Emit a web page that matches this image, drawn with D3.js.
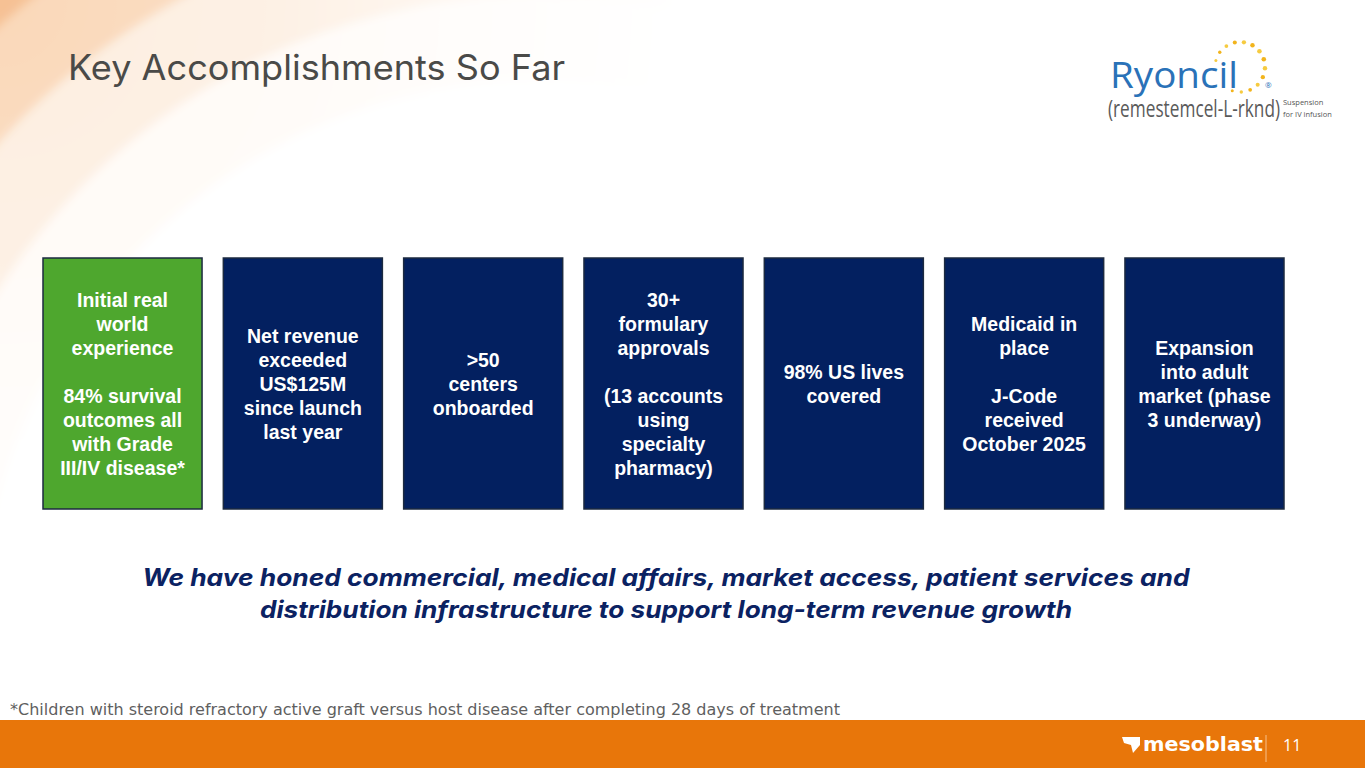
<html>
<head>
<script src="https://d3js.org/d3.v7.min.js"></script>
<style>
body { margin: 0; background: #fff; }
svg { display: block; }
</style>
</head>
<body>
<svg width="1365" height="768"></svg>
<script>
// slide content
var title = "Key Accomplishments So Far";
var boxIds = ["survival", "revenue", "centers", "formulary", "lives", "medicaid", "adult"];
var boxLines = [
  ["Initial real", "world", "experience", "", "84% survival", "outcomes all", "with Grade", "III/IV disease*"],
  ["Net revenue", "exceeded", "US$125M", "since launch", "last year"],
  [">50", "centers", "onboarded"],
  ["30+", "formulary", "approvals", "", "(13 accounts", "using", "specialty", "pharmacy)"],
  ["98% US lives", "covered"],
  ["Medicaid in", "place", "", "J-Code", "received", "October 2025"],
  ["Expansion", "into adult", "market (phase", "3 underway)"]
];
var boxKind = ["green", "navy", "navy", "navy", "navy", "navy", "navy"];
var tagline = [
  "We have honed commercial, medical affairs, market access, patient services and",
  "distribution infrastructure to support long-term revenue growth"
];
var taglineWidth = [1047, 812];
var footnote = "*Children with steroid refractory active graft versus host disease after completing 28 days of treatment";
var pageNo = "11";

var width = 1365, height = 768;
var svg = d3.select("svg");
var defs = svg.append("defs");

// background swirl, top left corner only
var fade = defs.append("radialGradient").attr("id", "fade")
  .attr("gradientUnits", "userSpaceOnUse")
  .attr("cx", 0).attr("cy", 0).attr("r", 680);
fade.append("stop").attr("offset", 0).attr("stop-color", "#fff").attr("stop-opacity", 1);
fade.append("stop").attr("offset", 0.4).attr("stop-color", "#fff").attr("stop-opacity", 0.85);
fade.append("stop").attr("offset", 1).attr("stop-color", "#fff").attr("stop-opacity", 0);
defs.append("mask").attr("id", "swirlMask")
  .append("rect").attr("width", width).attr("height", height).attr("fill", "url(#fade)");
defs.append("filter").attr("id", "blur").append("feGaussianBlur").attr("stdDeviation", 5);

var swirl = svg.append("g").attr("mask", "url(#swirlMask)");
var ringG = swirl.append("g").attr("filter", "url(#blur)");
ringG.append("rect").attr("x", -20).attr("y", -20).attr("width", 800).attr("height", 800).attr("fill", "#f6c194");
var rings = [{r: 818, c: "#fad8b9"}, {r: 735, c: "#fdeee0"}, {r: 645, c: "#fffaf6"}, {r: 560, c: "#ffffff"}];
ringG.selectAll("circle.ring").data(rings).enter().append("circle")
  .attr("class", "ring")
  .attr("cx", 540).attr("cy", 640)
  .attr("r", function(d) { return d.r; })
  .attr("fill", function(d) { return d.c; });

// title
svg.append("text")
  .attr("x", 68).attr("y", 80)
  .attr("textLength", 497).attr("lengthAdjust", "spacingAndGlyphs")
  .style("font-family", "Inter, 'Open Sans', sans-serif")
  .style("font-size", "35px")
  .style("fill", "#4a4a48")
  .text(title);

// Ryoncil logo
var logo = svg.append("g");
logo.append("text").attr("x", 1110).attr("y", 88)
  .attr("textLength", 128).attr("lengthAdjust", "spacingAndGlyphs")
  .style("font-family", "'Open Sans', sans-serif").style("font-size", "37px")
  .style("fill", "#2a72b8").text("Ryoncil");
var dotAngles = d3.range(-165, 115, 21);
logo.selectAll("circle.dot").data(dotAngles).enter().append("circle")
  .attr("class", "dot")
  .attr("cx", function(d) { return 1240 + 25 * Math.cos(d * Math.PI / 180); })
  .attr("cy", function(d) { return 67 + 25 * Math.sin(d * Math.PI / 180); })
  .attr("r", function(d, i) { return 1.5 + 0.8 * Math.sin(i / (dotAngles.length - 1) * Math.PI); })
  .attr("fill", function(d, i) { return i % 2 ? "#f2b41c" : "#f6cb40"; });
logo.append("text").attr("x", 1265).attr("y", 88)
  .style("font-family", "'Open Sans', sans-serif").style("font-size", "8px")
  .style("fill", "#2a72b8").text("®");
logo.append("text")
  .attr("transform", "translate(1108,117) scale(1,1.35)")
  .attr("textLength", 172).attr("lengthAdjust", "spacingAndGlyphs")
  .style("font-family", "'Open Sans', sans-serif").style("font-size", "17.5px")
  .style("fill", "#5a5a5a").text("(remestemcel-L-rknd)");
logo.append("text").attr("x", 1283).attr("y", 105)
  .style("font-family", "'Open Sans', sans-serif").style("font-size", "7.5px")
  .style("fill", "#555").text("Suspension");
logo.append("text").attr("x", 1283).attr("y", 117)
  .style("font-family", "'Open Sans', sans-serif").style("font-size", "7.5px")
  .style("fill", "#555").text("for IV infusion");

// boxes
var xs = d3.scaleBand().domain(boxIds).range([43, 1284]).paddingInner(0.118).paddingOuter(0);
var ys = d3.scaleLinear().domain([0, 1]).range([258, 509]);
var fills = {green: "#4ea72e", navy: "#032060"};
var lineH = 24;

var boxes = svg.append("g").selectAll("g.box")
  .data(boxIds).enter().append("g").attr("class", "box");
boxes.append("rect")
  .attr("x", function(d) { return xs(d); })
  .attr("y", ys(0))
  .attr("width", xs.bandwidth())
  .attr("height", ys(1) - ys(0))
  .attr("fill", function(d, i) { return fills[boxKind[i]]; })
  .attr("stroke", "#1c2a40").attr("stroke-width", 1.5);
boxes.each(function(d, i) {
  var lines = boxLines[i];
  var mid = (ys(0) + ys(1)) / 2 + 1;
  var y0 = mid - (lines.length - 1) * lineH / 2;
  d3.select(this).selectAll("text").data(lines).enter().append("text")
    .attr("x", xs(d) + xs.bandwidth() / 2)
    .attr("y", function(t, j) { return y0 + j * lineH; })
    .attr("dy", "0.35em")
    .attr("text-anchor", "middle")
    .style("font-family", "'Liberation Sans', Arial, sans-serif")
    .style("font-weight", "bold")
    .style("font-size", "19.5px")
    .style("fill", "#fff")
    .text(function(t) { return t; });
});

// tagline
svg.append("g").selectAll("text").data(tagline).enter().append("text")
  .attr("x", 666)
  .attr("y", function(d, i) { return 586 + i * 32; })
  .attr("text-anchor", "middle")
  .attr("textLength", function(d, i) { return taglineWidth[i]; })
  .attr("lengthAdjust", "spacingAndGlyphs")
  .style("font-family", "Inter, Roboto, sans-serif")
  .style("font-weight", "bold").style("font-style", "italic")
  .style("font-size", "24px")
  .style("fill", "#0b2262")
  .text(function(d) { return d; });

// footnote
svg.append("text")
  .attr("x", 10).attr("y", 715)
  .attr("textLength", 830).attr("lengthAdjust", "spacingAndGlyphs")
  .style("font-family", "'DejaVu Sans Condensed', 'Open Sans', sans-serif")
  .style("font-size", "16px")
  .style("fill", "#5f5f5f")
  .text(footnote);

// footer band
svg.append("rect").attr("x", 0).attr("y", 720).attr("width", width).attr("height", 48).attr("fill", "#e8760a");
var foot = svg.append("g");
// mesoblast mark
foot.append("path")
  .attr("d", "M1122,737 L1140,737 L1140,745 L1133,753 L1131,745 L1124,743 Z")
  .attr("fill", "#fff");
foot.append("text").attr("x", 1143).attr("y", 751)
  .attr("textLength", 120).attr("lengthAdjust", "spacingAndGlyphs")
  .style("font-family", "'DejaVu Sans', sans-serif").style("font-weight", "bold")
  .style("font-size", "19px")
  .style("fill", "#fff").text("mesoblast");
foot.append("line").attr("x1", 1266).attr("x2", 1266).attr("y1", 735).attr("y2", 762)
  .attr("stroke", "#f7c08a").attr("stroke-width", 1);
foot.append("text").attr("x", 1283).attr("y", 751)
  .style("font-family", "'Open Sans', sans-serif").style("font-size", "16px")
  .style("fill", "#fff").text(pageNo);
</script>
</body>
</html>
